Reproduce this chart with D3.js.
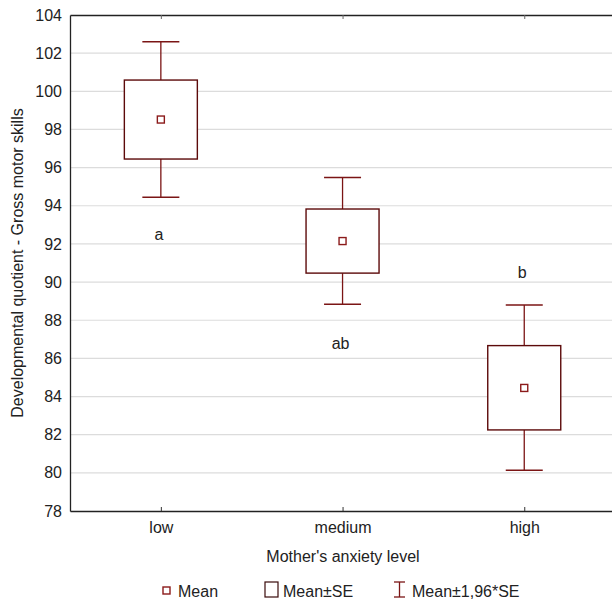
<!DOCTYPE html>
<html>
<head>
<meta charset="utf-8">
<title>gross motor skills by anxiety level</title>
<script src="https://d3js.org/d3.v7.min.js"></script>
<style>
  body{margin:0;background:#fff;}
  svg{display:block;font-family:"Liberation Sans",Arial,sans-serif;}
</style>
</head>
<body>
<div id="chart"></div>
<script>
// values
var levels = ["low","medium","high"]
var means = [98.52, 92.15, 84.45]
var seLow = [96.45, 90.47, 82.25]
var seHigh = [100.59, 93.83, 86.67]
var ciLow = [94.45, 88.84, 80.14]
var ciHigh = [102.60, 95.48, 88.80]
var groupLetters = ["a","ab","b"]
var letterValues = [92.2, 86.5, 90.2]
var yTicks = [78,80,82,84,86,88,90,92,94,96,98,100,102,104]

var width = 612, height = 602
var plotLeft = 70, plotTop = 15, plotBottom = 511
var fs = 16

var svg = d3.select("#chart").append("svg")
    .attr("width",width).attr("height",height)

var y = d3.scaleLinear().domain([78,104]).range([plotBottom,plotTop])
// category positions, plot runs half a step past each end
var x = d3.scaleLinear().domain([-0.5,2.5]).range([plotLeft,plotLeft+3*181.7])
var plotRight = x(2.5)

var markColor = "#7b1515"
var boxColor = "#5c0a0a"

// grid lines
svg.append("g").selectAll("line")
    .data(yTicks.filter(function(d){return d>78 && d<104}))
    .enter().append("line")
    .attr("x1",plotLeft).attr("x2",plotRight)
    .attr("y1",function(d){return y(d)}).attr("y2",function(d){return y(d)})
    .attr("stroke","#dcdcdc").attr("stroke-width",1.2)

// y axis
var yAxis = d3.axisLeft(y).tickValues(yTicks).tickSize(0).tickPadding(8)
var gy = svg.append("g").attr("transform","translate("+plotLeft+",0)").call(yAxis)
gy.select(".domain").attr("stroke","#222").attr("stroke-width",1.3)
gy.selectAll("text").attr("font-size",fs).attr("fill","#222")

// x axis (ticks point inwards)
var xAxis = d3.axisBottom(x).tickValues([0,1,2])
    .tickFormat(function(d){return levels[d]}).tickSizeInner(-4).tickSizeOuter(0).tickPadding(11)
var gx = svg.append("g").attr("transform","translate(0,"+plotBottom+")").call(xAxis)
gx.select(".domain").attr("stroke","#222").attr("stroke-width",1.3)
gx.selectAll(".tick line").attr("stroke","#333")
gx.selectAll("text").attr("font-size",fs).attr("fill","#222")

// top frame
var xTop = d3.axisTop(x).tickValues([0,1,2]).tickFormat("").tickSizeInner(-4).tickSizeOuter(0)
var gt = svg.append("g").attr("transform","translate(0,"+plotTop+")").call(xTop)
gt.select(".domain").attr("stroke","#222").attr("stroke-width",1.3)
gt.selectAll(".tick line").attr("stroke","#666")

var boxHalf = 36.5, capHalf = 18.5
var groups = svg.append("g").selectAll("g").data(levels).enter().append("g")

// whiskers
groups.append("line")
    .attr("x1",function(d,i){return x(i)}).attr("x2",function(d,i){return x(i)})
    .attr("y1",function(d,i){return y(ciHigh[i])}).attr("y2",function(d,i){return y(seHigh[i])})
    .attr("stroke",markColor).attr("stroke-width",1.3)
groups.append("line")
    .attr("x1",function(d,i){return x(i)}).attr("x2",function(d,i){return x(i)})
    .attr("y1",function(d,i){return y(seLow[i])}).attr("y2",function(d,i){return y(ciLow[i])})
    .attr("stroke",markColor).attr("stroke-width",1.3)
groups.append("line")
    .attr("x1",function(d,i){return x(i)-capHalf}).attr("x2",function(d,i){return x(i)+capHalf})
    .attr("y1",function(d,i){return y(ciHigh[i])}).attr("y2",function(d,i){return y(ciHigh[i])})
    .attr("stroke",markColor).attr("stroke-width",1.5)
groups.append("line")
    .attr("x1",function(d,i){return x(i)-capHalf}).attr("x2",function(d,i){return x(i)+capHalf})
    .attr("y1",function(d,i){return y(ciLow[i])}).attr("y2",function(d,i){return y(ciLow[i])})
    .attr("stroke",markColor).attr("stroke-width",1.5)

// SE boxes
groups.append("rect")
    .attr("x",function(d,i){return x(i)-boxHalf})
    .attr("y",function(d,i){return y(seHigh[i])})
    .attr("width",boxHalf*2)
    .attr("height",function(d,i){return y(seLow[i])-y(seHigh[i])})
    .attr("fill","#fff").attr("stroke",boxColor).attr("stroke-width",1.4)

// mean markers
groups.append("rect")
    .attr("x",function(d,i){return x(i)-3.5})
    .attr("y",function(d,i){return y(means[i])-3.5})
    .attr("width",7).attr("height",7)
    .attr("fill","#fff").attr("stroke","#8b1a1a").attr("stroke-width",1.4)

// group letters
groups.append("text")
    .attr("x",function(d,i){return x(i)-2})
    .attr("y",function(d,i){return y(letterValues[i])})
    .attr("text-anchor","middle").attr("font-size",fs).attr("fill","#222")
    .text(function(d,i){return groupLetters[i]})

// axis titles
svg.append("text")
    .attr("x",343).attr("y",562)
    .attr("text-anchor","middle").attr("font-size",fs).attr("fill","#222")
    .text("Mother's anxiety level")
svg.append("text")
    .attr("transform","translate(23,"+((plotTop+plotBottom)/2)+") rotate(-90)")
    .attr("text-anchor","middle").attr("font-size",fs).attr("fill","#222")
    .text("Developmental quotient - Gross motor skills")

// legend
var lg = svg.append("g").attr("font-size",fs).attr("fill","#222")
lg.append("rect").attr("x",163).attr("y",587).attr("width",7).attr("height",7)
    .attr("fill","#fff").attr("stroke","#8b1a1a").attr("stroke-width",1.4)
lg.append("text").attr("x",178).attr("y",597).text("Mean")
lg.append("rect").attr("x",265).attr("y",582).attr("width",13).attr("height",15)
    .attr("fill","#fff").attr("stroke","#3a0a0a").attr("stroke-width",1.2)
lg.append("text").attr("x",283).attr("y",597).text("Mean±SE")
lg.append("line").attr("x1",399.5).attr("x2",399.5).attr("y1",582).attr("y2",597)
    .attr("stroke",markColor).attr("stroke-width",1.3)
lg.append("line").attr("x1",394).attr("x2",405).attr("y1",582).attr("y2",582)
    .attr("stroke",markColor).attr("stroke-width",1.3)
lg.append("line").attr("x1",394).attr("x2",405).attr("y1",597).attr("y2",597)
    .attr("stroke",markColor).attr("stroke-width",1.3)
lg.append("text").attr("x",412).attr("y",597).text("Mean±1,96*SE")
</script>
</body>
</html>
